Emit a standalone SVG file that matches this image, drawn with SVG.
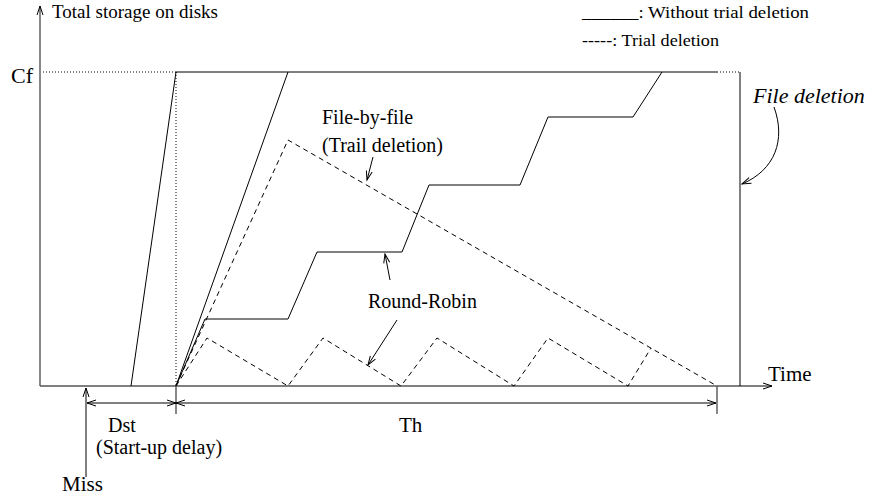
<svg xmlns="http://www.w3.org/2000/svg" width="870" height="498" viewBox="0 0 870 498">
<defs>
<marker id="ah" markerUnits="userSpaceOnUse" markerWidth="12" markerHeight="10" viewBox="-10 -5 12 10" refX="0" refY="0" orient="auto">
<path d="M-9,-3 L0,0 L-9,3" fill="none" stroke="#000" stroke-width="1"/>
</marker>
<marker id="ahs" markerUnits="userSpaceOnUse" markerWidth="12" markerHeight="10" viewBox="-10 -5 12 10" refX="0" refY="0" orient="auto-start-reverse">
<path d="M-9,-3 L0,0 L-9,3" fill="none" stroke="#000" stroke-width="1"/>
</marker>
</defs>
<style>
text{font-family:"Liberation Serif","Times New Roman",serif;fill:#000}
.ax{stroke:#555;stroke-width:1.4;fill:none}
.s{stroke:#000;stroke-width:1;fill:none}
.d{stroke:#000;stroke-width:1;fill:none;stroke-dasharray:5,4}
.dt{stroke:#000;stroke-width:1;fill:none;stroke-dasharray:1,2}
</style>
<rect width="870" height="498" fill="#fff"/>
<g id="axes">
<line class="ax" x1="40" y1="386" x2="40" y2="6" marker-end="url(#ah)"/>
<line class="ax" x1="40" y1="386" x2="772" y2="386" marker-end="url(#ah)"/>
<text x="52" y="18" font-size="19">Total storage on disks</text>
<text x="768" y="381" font-size="21">Time</text>
<text x="11" y="83" font-size="22">Cf</text>
</g>
<g id="legend">
<text x="582" y="18" font-size="16" textLength="227" lengthAdjust="spacingAndGlyphs">______: Without trial deletion</text>
<text x="582" y="46" font-size="16" textLength="137" lengthAdjust="spacingAndGlyphs">-----: Trial deletion</text>
</g>
<g id="connectors">
<line class="dt" x1="43" y1="72" x2="176" y2="72"/>
<line class="dt" x1="176" y1="72" x2="176" y2="386"/>
<line class="s" x1="176" y1="72" x2="717" y2="72"/>
<line class="dt" x1="717" y1="72" x2="740" y2="72"/>
<line class="s" x1="740" y1="72" x2="740" y2="386"/>
<polyline class="s" points="131,386 176,72"/>
<polyline class="s" points="176,386 288,72"/>
<polyline class="s" points="176,386 205,319 288,319 317,252 402,252 429,185 520,185 548,117 633,117 662,72"/>
<polyline class="d" points="176,386 288,140 717,386"/>
<polyline class="d" points="176,386 207,338 288,386 323,338 401,386 437,338 514,386 548,338 628,386 651,348"/>
<line class="ax" x1="176" y1="386" x2="176" y2="414"/>
<line class="ax" x1="717" y1="386" x2="717" y2="414"/>
<line class="s" x1="176" y1="403" x2="87" y2="403" marker-end="url(#ah)" marker-start="url(#ahs)"/>
<line class="s" x1="176" y1="403" x2="716" y2="403" marker-end="url(#ah)" marker-start="url(#ahs)"/>
<line class="s" x1="86" y1="477" x2="86" y2="388" marker-end="url(#ah)"/>
<path class="s" d="M774,107 C786,140 775,170 742,184" marker-end="url(#ah)"/>
<line class="s" x1="373" y1="157" x2="367" y2="180" marker-end="url(#ah)"/>
<line class="s" x1="390" y1="280" x2="385" y2="254" marker-end="url(#ah)"/>
<line class="s" x1="397" y1="320" x2="368" y2="365" marker-end="url(#ah)"/>
</g>
<g id="labels">
<text x="753" y="103" font-size="22" font-style="italic">File deletion</text>
<text x="322" y="124" font-size="20">File-by-file</text>
<text x="322" y="152" font-size="20">(Trail deletion)</text>
<text x="368" y="308" font-size="20">Round-Robin</text>
<text x="108" y="432" font-size="20">Dst</text>
<text x="96" y="454" font-size="20">(Start-up delay)</text>
<text x="399" y="432" font-size="21">Th</text>
<text x="62" y="491" font-size="21">Miss</text>
</g>
</svg>
